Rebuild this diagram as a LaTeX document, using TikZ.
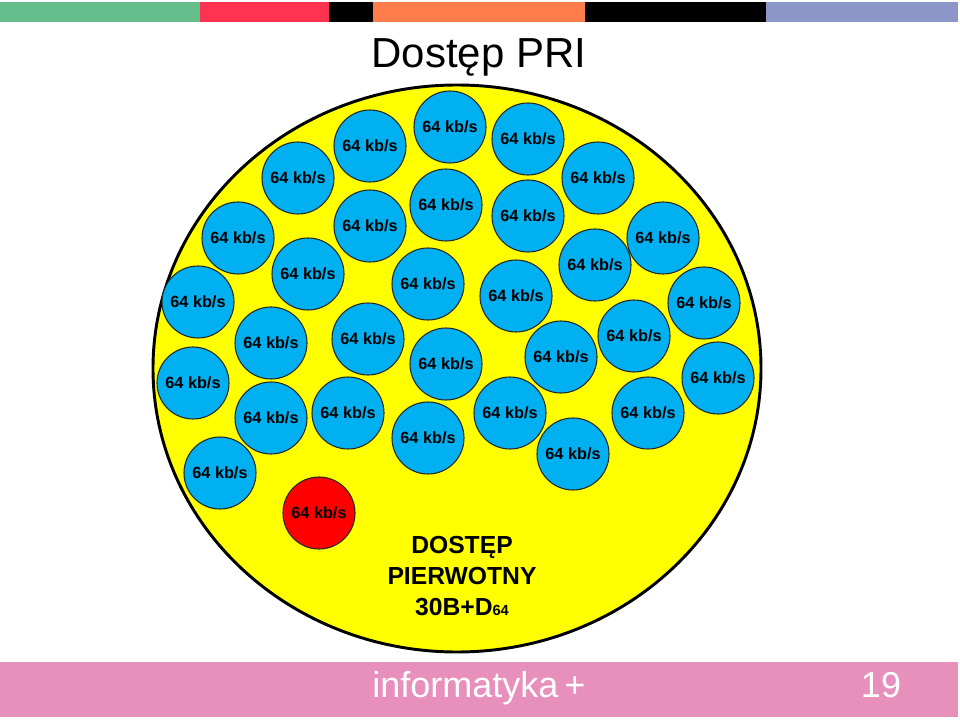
\documentclass[tikz,border=0pt]{standalone}
\usepackage{fontspec}
\setmainfont{Liberation Sans}
\definecolor{barGreen}{RGB}{100,190,140}
\definecolor{barRed}{RGB}{255,50,82}
\definecolor{barOrange}{RGB}{255,125,75}
\definecolor{barLav}{RGB}{140,150,200}
\definecolor{footPink}{RGB}{232,144,188}
\definecolor{chanBlue}{RGB}{0,176,240}
\definecolor{accYellow}{RGB}{255,255,0}
\definecolor{chanRed}{RGB}{255,0,0}
\begin{document}
\begin{tikzpicture}[x=0.75pt,y=-0.75pt,
  chan/.style={circle,draw=black!85,line width=0.8pt,fill=chanBlue,inner sep=0pt,
    minimum size=54pt,font=\fontsize{12.2}{14}\selectfont\bfseries},
  dchan/.style={chan,fill=chanRed}]
\useasboundingbox (0,0) rectangle (960,720);
\fill[white] (0,0) rectangle (960,720);
% top bar
\fill[barGreen] (0,2) rectangle (200,22);
\fill[barRed] (200,2) rectangle (329,22);
\fill[black] (329,2) rectangle (373,22);
\fill[barOrange] (373,2) rectangle (585,22);
\fill[black] (585,2) rectangle (766,22);
\fill[barLav] (766,2) rectangle (958,22);
% title
\node[anchor=base,font=\fontsize{31.5}{34}\selectfont] (title) at (479,68) {Dostęp PRI};
% big ellipse
\draw[fill=accYellow,line width=2.2pt] (457,368.5) ellipse [x radius=304, y radius=283.5];
% channels
\foreach \i/\x/\y in {1/450/127,2/528/139,3/370/146,4/298/178,5/598/178,6/446/205,
  7/528/216,8/370/226,9/238/238,10/663/238,11/308/274,12/428/284,13/595/265,
  14/516/296,15/198/302,16/704/303,17/271/343,18/368/339,19/446/364,20/561/357,
  21/634/336,22/193/383,23/718/378,24/271/418,25/348/413,26/510/413,27/648/413,
  28/428/438,29/573/454,30/220/473}
  \node[chan] (c\i) at (\x,\y) {64 kb/s};
\node[dchan] (d) at (319,513) {64 kb/s};
% label
\node[align=center,font=\fontsize{18.5}{23}\selectfont\bfseries] (lbl) at (462,576)
  {DOSTĘP\\PIERWOTNY\\30B+D{\fontsize{11}{11}\selectfont 64}};
% footer
\fill[footPink] (0,662) rectangle (958,717);
\node[anchor=base,text=white,font=\fontsize{27}{30}\selectfont] (foot) at (479,697) {informatyka\,+};
\node[anchor=base,text=white,font=\fontsize{27}{30}\selectfont] (page) at (881,697) {19};
\end{tikzpicture}
\end{document}
